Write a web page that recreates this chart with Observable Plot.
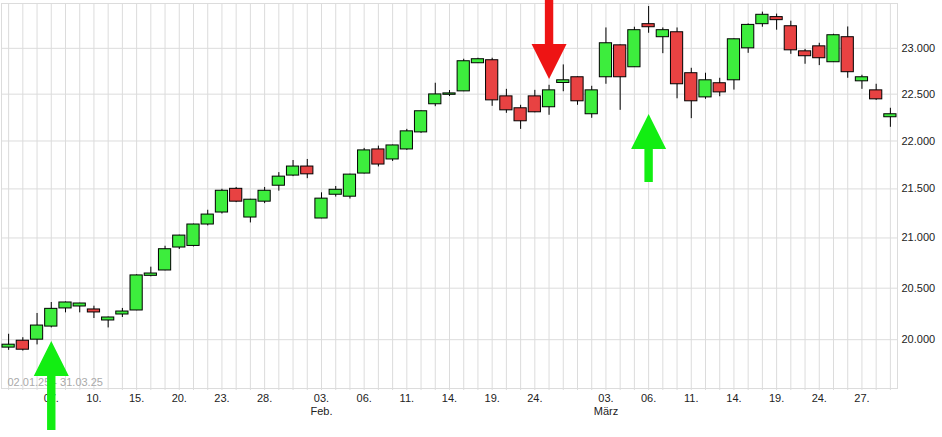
<!DOCTYPE html>
<html><head><meta charset="utf-8">
<script src="https://cdn.jsdelivr.net/npm/d3@7"></script>
<script src="https://cdn.jsdelivr.net/npm/@observablehq/plot@0.6"></script>
<style>body{margin:0;background:#fff;} svg{display:block}</style>
</head><body><div id="chart"></div>
<script>
// ---- data ----
const dates = [
"2025-01-02","2025-01-03","2025-01-06","2025-01-07","2025-01-08","2025-01-09","2025-01-10",
"2025-01-13","2025-01-14","2025-01-15","2025-01-16","2025-01-17","2025-01-20","2025-01-21",
"2025-01-22","2025-01-23","2025-01-24","2025-01-27","2025-01-28","2025-01-29","2025-01-30","2025-01-31",
"2025-02-03","2025-02-04","2025-02-05","2025-02-06","2025-02-07","2025-02-10","2025-02-11",
"2025-02-12","2025-02-13","2025-02-14","2025-02-17","2025-02-18","2025-02-19","2025-02-20",
"2025-02-21","2025-02-24","2025-02-25","2025-02-26","2025-02-27","2025-02-28",
"2025-03-03","2025-03-04","2025-03-05","2025-03-06","2025-03-07","2025-03-10","2025-03-11",
"2025-03-12","2025-03-13","2025-03-14","2025-03-17","2025-03-18","2025-03-19","2025-03-20",
"2025-03-21","2025-03-24","2025-03-25","2025-03-26","2025-03-27","2025-03-28","2025-03-31"];
const open = [19924,19990,20000,20126,20302,20321,20292,20185,20243,20282,20622,20675,20904,20920,21136,21258,21501,21207,21369,21533,21638,21732,
21197,21440,21420,21659,21911,21806,21911,22091,22391,22493,22530,22836,22869,22476,22348,22476,22359,22621,22683,22284,
22683,23033,22792,23268,23123,23178,22727,22465,22618,22650,23000,23268,23347,23245,22967,23022,22847,23123,22639,22541,22252];
const high = [20052,20019,20253,20360,20365,20352,20324,20218,20302,20632,20708,20917,21028,21140,21281,21497,21515,21393,21515,21669,21795,21806,
21460,21525,21652,21922,21946,21957,22123,22320,22618,22539,22880,22891,22891,22552,22380,22541,22596,22818,22687,22585,
23226,23037,23234,23466,23226,23226,22781,22727,22672,23104,23271,23403,23381,23301,22989,23056,23156,23237,22705,22607,22348];
const low = [19898,19891,19950,20113,20259,20259,20204,20113,20214,20280,20612,20672,20884,20910,21122,21243,21359,21152,21349,21477,21627,21606,
21195,21416,21396,21655,21728,21785,21901,22081,22365,22474,22527,22833,22369,22294,22123,22300,22273,22526,22380,22241,
22607,22326,22790,23167,22941,22450,22237,22444,22472,22544,22945,23234,23201,22934,22825,22810,22845,22672,22552,22433,22145];
const close = [19952,19904,20136,20298,20360,20350,20263,20214,20272,20626,20645,20887,21024,21136,21237,21481,21369,21389,21481,21627,21732,21651,
21400,21491,21648,21901,21753,21953,22102,22316,22497,22508,22858,22880,22433,22326,22209,22305,22541,22650,22423,22541,
23056,22683,23201,23234,23201,22607,22423,22650,22519,23100,23260,23373,23313,22978,22913,22891,23145,22738,22683,22444,22284];
const tickDates = ["2025-01-07","2025-01-10","2025-01-15","2025-01-20","2025-01-23","2025-01-28",
"2025-02-03","2025-02-06","2025-02-11","2025-02-14","2025-02-19","2025-02-24",
"2025-03-03","2025-03-06","2025-03-11","2025-03-14","2025-03-19","2025-03-24","2025-03-27"];
const monthTickDates = ["2025-02-03","2025-03-03"];
const monthNames = ["Feb.","März"];
const yTicks = [20000,20500,21000,21500,22000,22500,23000];
const yDomain = [19537, 23500];
const rangeLabel = "02.01.25 - 31.03.25";
const arrowDates = ["2025-01-07","2025-02-25","2025-03-06"];
const arrowTips = [19987, 22665, 22287];
const arrowDirs = ["up","down","up"];

// ---- styles ----
const GREEN = "#3ded3d", RED = "#e84242", GRID = "#dcdcdc";
const ARROW_GREEN = "#12ee12", ARROW_RED = "#ee1414";
const arrowLens = [89, 92, 68];
function arrowSymbol(dir, len) {
  const s = dir === "up" ? 1 : -1, hh = 35, hw = 17.5, sw = 4.2;
  return {draw(ctx) {
    ctx.moveTo(0, 0); ctx.lineTo(hw, hh * s); ctx.lineTo(sw, hh * s); ctx.lineTo(sw, len * s);
    ctx.lineTo(-sw, len * s); ctx.lineTo(-sw, hh * s); ctx.lineTo(-hw, hh * s); ctx.closePath();
  }};
}
const fmtY = v => d3.format(",")(v).replace(/,/g, ".");
const idx = d3.range(dates.length);

const chart = Plot.plot({
  width: 942, height: 437,
  marginLeft: 1, marginRight: 45, marginTop: 3, marginBottom: 49,
  style: {fontFamily: "'Liberation Sans', Arial, sans-serif", fontSize: "11px", background: "#fff", overflow: "visible"},
  x: {type: "band", domain: dates, padding: 0, round: false},
  y: {type: "log", domain: yDomain},
  marks: [
    Plot.ruleY(yTicks, {stroke: GRID}),
    Plot.ruleX(dates, {stroke: GRID}),
    Plot.frame({stroke: GRID}),
    Plot.axisX(dates, {tickSize: 2, tickFormat: () => "", stroke: GRID, label: null}),
    Plot.text([rangeLabel], {frameAnchor: "bottom-left", text: d => d, dx: 6, dy: -6, textAnchor: "start", lineAnchor: "middle", fill: "#aaa", fontSize: 11}),
    Plot.ruleX(idx, {x: i => dates[i], y1: i => low[i], y2: i => high[i], stroke: "#000", strokeWidth: 1}),
    Plot.barY(idx, {x: i => dates[i], y1: i => open[i], y2: i => close[i],
      fill: i => close[i] >= open[i] ? GREEN : RED, stroke: "#000", strokeWidth: 1, insetLeft: 1, insetRight: 1}),
    Plot.axisY(yTicks, {anchor: "right", tickSize: 0, tickPadding: 4, tickFormat: fmtY, fill: "#222", label: null, fontSize: 11}),
    Plot.axisX(tickDates, {tickSize: 0, tickPadding: 5, label: null, fill: "#222", fontSize: 11, lineHeight: 1.15,
      tickFormat: d => { const k = monthTickDates.indexOf(d); const dd = d.slice(8) + "."; return k >= 0 ? dd + "\n" + monthNames[k] : dd; }}),
    ...arrowDates.map((d, i) => Plot.dot([i], {x: () => arrowDates[i], y: () => arrowTips[i],
      symbol: arrowSymbol(arrowDirs[i], arrowLens[i]), fill: arrowDirs[i] === "up" ? ARROW_GREEN : ARROW_RED, r: 10}))
  ]
});
document.getElementById("chart").appendChild(chart);
</script>
</body></html>
